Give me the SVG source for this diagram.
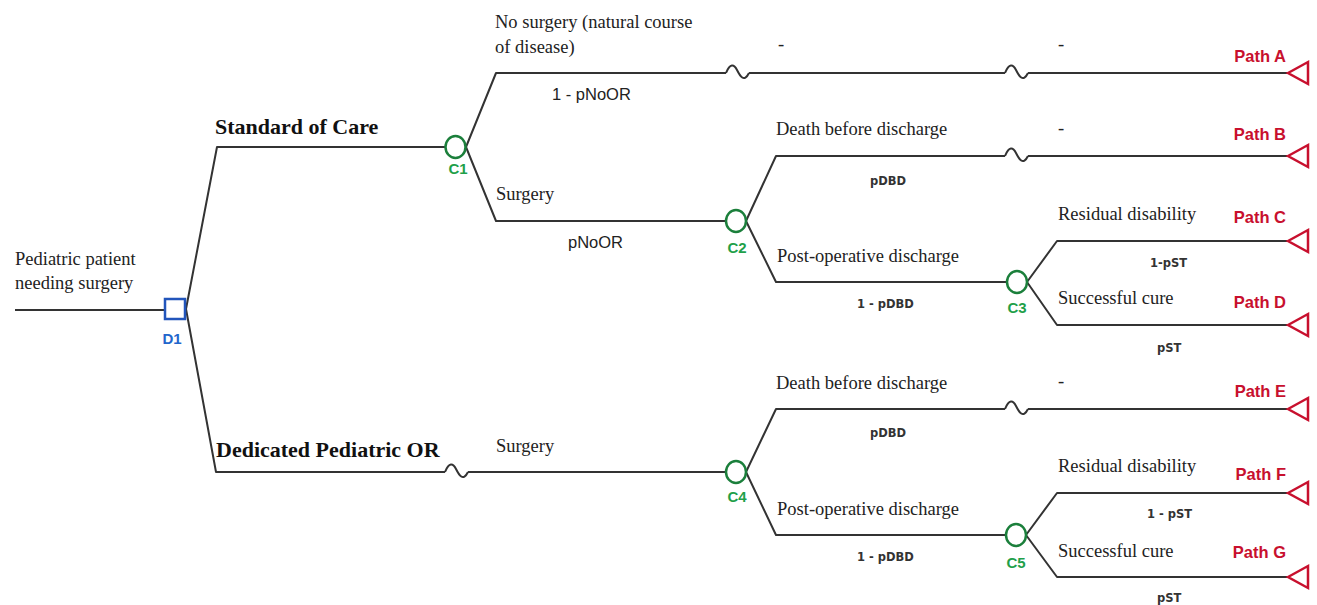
<svg xmlns="http://www.w3.org/2000/svg" width="1317" height="605" viewBox="0 0 1317 605">
<defs>
<style>
.ln{fill:none;stroke:#333;stroke-width:2;stroke-linejoin:round}
.chance{fill:#fff;stroke:#1b7f3b;stroke-width:2.5}
.dec{fill:#fff;stroke:#2255bb;stroke-width:2.5}
.term{fill:#fff;stroke:#c8102e;stroke-width:2.5;stroke-linejoin:miter}
.sr{font-family:"Liberation Serif","Times New Roman",serif;font-size:18.5px;fill:#222}
.sb{font-family:"Liberation Serif","Times New Roman",serif;font-size:22px;font-weight:bold;fill:#111}
.ss{font-family:"Liberation Sans",Arial,sans-serif;font-size:16.5px;fill:#222}
.sm{font-family:"DejaVu Sans",Verdana,sans-serif;font-size:11.5px;font-weight:bold;fill:#333}
.cl{font-family:"Liberation Sans",Arial,sans-serif;font-size:15px;font-weight:bold;fill:#1fa04a;text-anchor:middle}
.dl{font-family:"Liberation Sans",Arial,sans-serif;font-size:15px;font-weight:bold;fill:#2266cc;text-anchor:middle}
.pl{font-family:"Liberation Sans",Arial,sans-serif;font-size:16.5px;font-weight:bold;fill:#c8102e;text-anchor:end}
</style>
<path id="wave" d="M0,0 C4,-10 8,-9 11,-3 S18,10 23,0"/>
<path id="tri" d="M0,0 L20,-11 L20,11 Z"/>
</defs>

<g id="connectors">
<path class="ln" d="M15,310 H165"/>
<path class="ln" d="M186,309 L217,147 H445"/>
<path class="ln" d="M186,309 L216,472 H445"/>
<path class="ln" d="M468,472 H726"/>
<path class="ln" d="M466,147 L496,73 H726"/>
<path class="ln" d="M749,73 H1005"/>
<path class="ln" d="M1028,73 H1287"/>
<path class="ln" d="M466,147 L496,221 H726"/>
<path class="ln" d="M746,221 L776,156 H1005"/>
<path class="ln" d="M1028,156 H1287"/>
<path class="ln" d="M746,221 L776,282 H1007"/>
<path class="ln" d="M1027,282 L1057,241 H1287"/>
<path class="ln" d="M1027,282 L1057,325 H1287"/>
<path class="ln" d="M746,472 L776,409 H1005"/>
<path class="ln" d="M1028,409 H1287"/>
<path class="ln" d="M746,472 L776,535 H1006"/>
<path class="ln" d="M1026,535 L1057,493 H1287"/>
<path class="ln" d="M1026,535 L1057,577 H1287"/>
<use href="#wave" class="ln" x="726" y="73"/>
<use href="#wave" class="ln" x="1005" y="73"/>
<use href="#wave" class="ln" x="1005" y="156"/>
<use href="#wave" class="ln" x="1005" y="409"/>
<use href="#wave" class="ln" x="445" y="472"/>
</g>

<g id="start">
<text class="sr" x="15" y="265">Pediatric patient</text>
<text class="sr" x="15" y="289">needing surgery</text>
</g>

<g id="D1">
<rect class="dec" x="165" y="299" width="20" height="20"/>
<text class="dl" x="172" y="344">D1</text>
</g>

<g id="branch-soc"><text class="sb" x="215" y="134">Standard of Care</text></g>
<g id="branch-dpor"><text class="sb" x="216" y="457">Dedicated Pediatric OR</text></g>

<g id="C1">
<ellipse class="chance" cx="455.5" cy="147" rx="10" ry="11"/>
<text class="cl" x="458" y="174">C1</text>
</g>
<g id="branch-nosurg">
<text class="sr" x="495" y="28">No surgery (natural course</text>
<text class="sr" x="495" y="53">of disease)</text>
<text class="ss" x="552" y="100">1 - pNoOR</text>
<text class="sr" x="778" y="50">-</text>
<text class="sr" x="1058" y="50">-</text>
</g>
<g id="branch-surg1">
<text class="sr" x="496" y="200">Surgery</text>
<text class="ss" x="568" y="248">pNoOR</text>
</g>

<g id="C2">
<ellipse class="chance" cx="736" cy="221" rx="10" ry="11"/>
<text class="cl" x="737" y="253">C2</text>
</g>
<g id="branch-dbd1">
<text class="sr" x="776" y="135">Death before discharge</text>
<text class="sr" x="1058" y="134">-</text>
<text class="sm" x="870" y="185">pDBD</text>
</g>
<g id="branch-pod1">
<text class="sr" x="777" y="262">Post-operative discharge</text>
<text class="sm" x="857" y="308">1 - pDBD</text>
</g>

<g id="C3">
<ellipse class="chance" cx="1017" cy="282" rx="10" ry="11"/>
<text class="cl" x="1017" y="313">C3</text>
</g>
<g id="branch-rd1">
<text class="sr" x="1058" y="220">Residual disability</text>
<text class="sm" x="1150" y="267">1-pST</text>
</g>
<g id="branch-sc1">
<text class="sr" x="1058" y="304">Successful cure</text>
<text class="sm" x="1157" y="352">pST</text>
</g>

<g id="C4">
<ellipse class="chance" cx="736" cy="472" rx="10" ry="11"/>
<text class="cl" x="737" y="502">C4</text>
</g>
<g id="branch-surg2"><text class="sr" x="496" y="452">Surgery</text></g>
<g id="branch-dbd2">
<text class="sr" x="776" y="389">Death before discharge</text>
<text class="sr" x="1058" y="387">-</text>
<text class="sm" x="870" y="437">pDBD</text>
</g>
<g id="branch-pod2">
<text class="sr" x="777" y="515">Post-operative discharge</text>
<text class="sm" x="857" y="561">1 - pDBD</text>
</g>

<g id="C5">
<ellipse class="chance" cx="1016" cy="535" rx="10" ry="11"/>
<text class="cl" x="1016" y="568">C5</text>
</g>
<g id="branch-rd2">
<text class="sr" x="1058" y="472">Residual disability</text>
<text class="sm" x="1147" y="518">1 - pST</text>
</g>
<g id="branch-sc2">
<text class="sr" x="1058" y="557">Successful cure</text>
<text class="sm" x="1157" y="602">pST</text>
</g>

<g id="pathA"><use href="#tri" class="term" x="1288" y="73"/><text class="pl" x="1286" y="62">Path A</text></g>
<g id="pathB"><use href="#tri" class="term" x="1288" y="156"/><text class="pl" x="1286" y="140">Path B</text></g>
<g id="pathC"><use href="#tri" class="term" x="1288" y="241"/><text class="pl" x="1286" y="223">Path C</text></g>
<g id="pathD"><use href="#tri" class="term" x="1288" y="325"/><text class="pl" x="1286" y="308">Path D</text></g>
<g id="pathE"><use href="#tri" class="term" x="1288" y="409"/><text class="pl" x="1286" y="397">Path E</text></g>
<g id="pathF"><use href="#tri" class="term" x="1288" y="493"/><text class="pl" x="1286" y="480">Path F</text></g>
<g id="pathG"><use href="#tri" class="term" x="1288" y="577"/><text class="pl" x="1286" y="558">Path G</text></g>
</svg>
